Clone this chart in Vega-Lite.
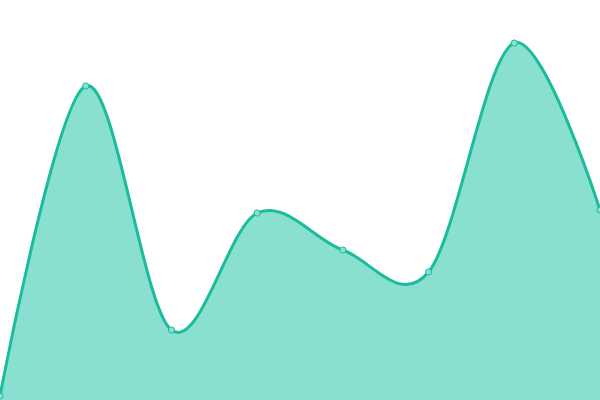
{
  "$schema": "https://vega.github.io/schema/vega-lite/v6.json",
  "width": 600,
  "height": 400,
  "padding": 0,
  "autosize": {"type": "none"},
  "config": {"view": {"stroke": null}},
  "data": {
    "values": [
      {"i": 0, "v": 1},
      {"i": 1, "v": 78.5},
      {"i": 2, "v": 17.5},
      {"i": 3, "v": 46.75},
      {"i": 4, "v": 37.5},
      {"i": 5, "v": 32},
      {"i": 6, "v": 89.25},
      {"i": 7, "v": 47.5}
    ]
  },
  "encoding": {
    "x": {"field": "i", "type": "quantitative", "scale": {"domain": [0, 7], "nice": false, "zero": false}, "axis": null},
    "y": {"field": "v", "type": "quantitative", "scale": {"domain": [0, 100], "nice": false}, "axis": null}
  },
  "layer": [
    {
      "mark": {"type": "area", "interpolate": "cardinal", "fill": "#8ae0d0", "fillOpacity": 1, "line": {"color": "#1abc9c", "strokeWidth": 3}}
    },
    {
      "mark": {"type": "point", "filled": true, "fill": "#8ae0d0", "stroke": "#1abc9c", "strokeWidth": 1, "size": 38, "opacity": 1}
    }
  ]
}
